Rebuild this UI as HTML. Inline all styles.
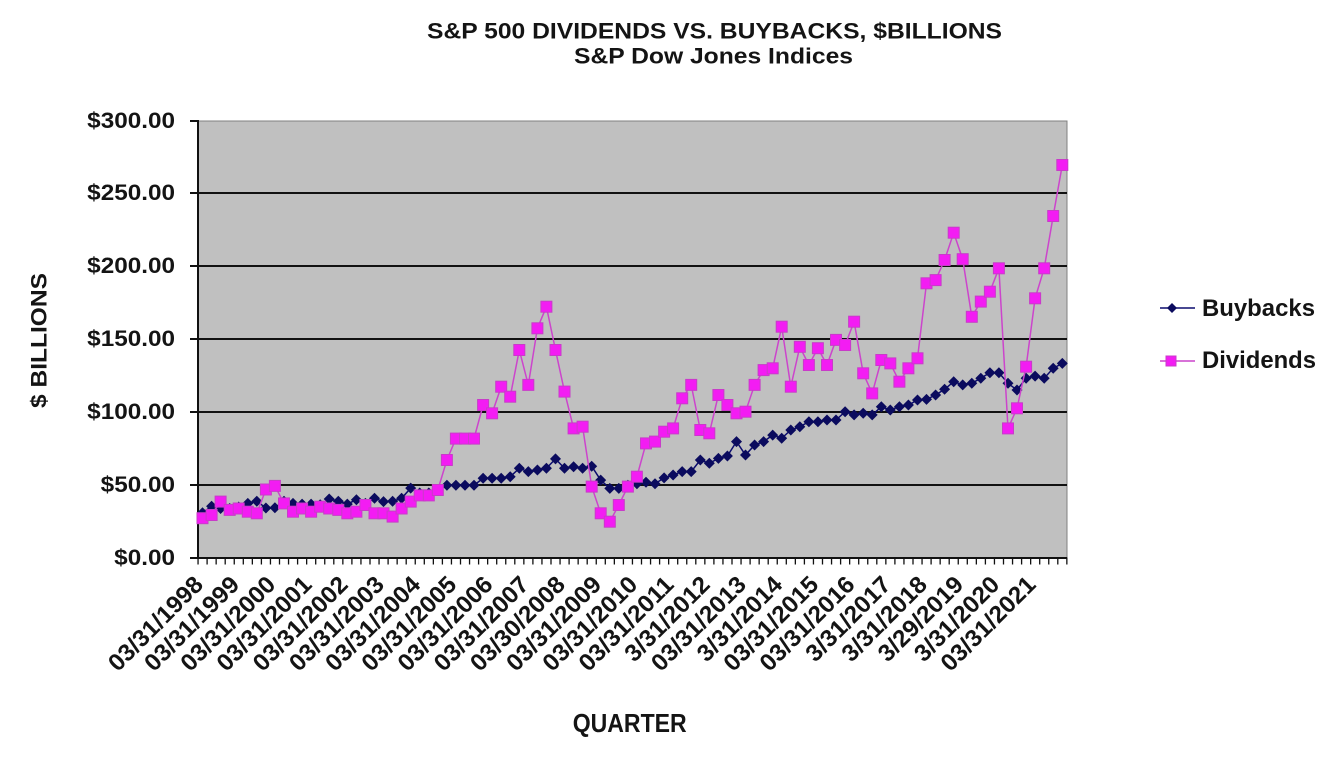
<!DOCTYPE html>
<html>
<head>
<meta charset="utf-8">
<style>
  html,body{margin:0;padding:0;background:#fff;}
  svg{display:block;}
  text{font-family:"Liberation Sans",Arial,sans-serif;font-weight:bold;fill:#141414;}
</style>
</head>
<body>
<svg width="1333" height="760" viewBox="0 0 1333 760" xmlns="http://www.w3.org/2000/svg">
  <defs>
    <marker id="dm" markerWidth="13" markerHeight="13" refX="6.5" refY="6.5" markerUnits="userSpaceOnUse">
      <path d="M6.5 1 L12 6.5 L6.5 12 L1 6.5 Z" fill="#0b0b5e"/>
    </marker>
    <marker id="sq" markerWidth="13" markerHeight="13" refX="6.5" refY="6.5" markerUnits="userSpaceOnUse">
      <rect x="1" y="1" width="11" height="11" fill="#f31cf3" stroke="#c83cc8" stroke-width="1"/>
    </marker>
  </defs>

  <rect x="0" y="0" width="1333" height="760" fill="#fff"/>

  <!-- titles -->
  <text x="427" y="38.5" font-size="22" textLength="575" lengthAdjust="spacingAndGlyphs">S&amp;P 500 DIVIDENDS VS. BUYBACKS,  $BILLIONS</text>
  <text x="574" y="63.5" font-size="22" textLength="279" lengthAdjust="spacingAndGlyphs">S&amp;P Dow Jones Indices</text>

  <!-- plot area -->
  <rect x="198" y="121" width="869" height="437" fill="#c0c0c0" stroke="#808080" stroke-width="1"/>

  <!-- gridlines -->
  <g stroke="#111" stroke-width="2">
    <line x1="198" y1="193" x2="1067" y2="193"/>
    <line x1="198" y1="266" x2="1067" y2="266"/>
    <line x1="198" y1="339" x2="1067" y2="339"/>
    <line x1="198" y1="412" x2="1067" y2="412"/>
    <line x1="198" y1="485" x2="1067" y2="485"/>
  </g>

  <!-- axes -->
  <g stroke="#111" stroke-width="2">
    <line x1="198" y1="120" x2="198" y2="559"/>
    <line x1="197" y1="558" x2="1067" y2="558"/>
    <line x1="190" y1="121" x2="198" y2="121"/>
    <line x1="190" y1="193" x2="198" y2="193"/>
    <line x1="190" y1="266" x2="198" y2="266"/>
    <line x1="190" y1="339" x2="198" y2="339"/>
    <line x1="190" y1="412" x2="198" y2="412"/>
    <line x1="190" y1="485" x2="198" y2="485"/>
    <line x1="190" y1="558" x2="198" y2="558"/>
  </g>
  <line x1="197.4" y1="561" x2="1068" y2="561" stroke="#111" stroke-width="7" stroke-dasharray="1.3 7.75"/>

  <!-- y labels -->
  <g font-size="22" text-anchor="end">
    <text x="175" y="128" textLength="87.8" lengthAdjust="spacingAndGlyphs">$300.00</text>
    <text x="175" y="200" textLength="87.8" lengthAdjust="spacingAndGlyphs">$250.00</text>
    <text x="175" y="273" textLength="87.8" lengthAdjust="spacingAndGlyphs">$200.00</text>
    <text x="175" y="346" textLength="87.8" lengthAdjust="spacingAndGlyphs">$150.00</text>
    <text x="175" y="419" textLength="87.8" lengthAdjust="spacingAndGlyphs">$100.00</text>
    <text x="175" y="492" textLength="74.3" lengthAdjust="spacingAndGlyphs">$50.00</text>
    <text x="175" y="565" textLength="60.8" lengthAdjust="spacingAndGlyphs">$0.00</text>
  </g>

  <!-- y title -->
  <text transform="translate(46.5,340.5) rotate(-90)" font-size="22" text-anchor="middle" textLength="135" lengthAdjust="spacingAndGlyphs">$ BILLIONS</text>

  <!-- x labels -->
  <g font-size="24" text-anchor="end">
    <text transform="translate(204.5,586) rotate(-45)" textLength="122.6" lengthAdjust="spacingAndGlyphs">03/31/1998</text>
    <text transform="translate(240.7,586) rotate(-45)" textLength="122.6" lengthAdjust="spacingAndGlyphs">03/31/1999</text>
    <text transform="translate(276.9,586) rotate(-45)" textLength="122.6" lengthAdjust="spacingAndGlyphs">03/31/2000</text>
    <text transform="translate(313.1,586) rotate(-45)" textLength="122.6" lengthAdjust="spacingAndGlyphs">03/31/2001</text>
    <text transform="translate(349.3,586) rotate(-45)" textLength="122.6" lengthAdjust="spacingAndGlyphs">03/31/2002</text>
    <text transform="translate(385.5,586) rotate(-45)" textLength="122.6" lengthAdjust="spacingAndGlyphs">03/31/2003</text>
    <text transform="translate(421.7,586) rotate(-45)" textLength="122.6" lengthAdjust="spacingAndGlyphs">03/31/2004</text>
    <text transform="translate(457.9,586) rotate(-45)" textLength="122.6" lengthAdjust="spacingAndGlyphs">03/31/2005</text>
    <text transform="translate(494.1,586) rotate(-45)" textLength="122.6" lengthAdjust="spacingAndGlyphs">03/31/2006</text>
    <text transform="translate(530.3,586) rotate(-45)" textLength="122.6" lengthAdjust="spacingAndGlyphs">03/31/2007</text>
    <text transform="translate(566.5,586) rotate(-45)" textLength="122.6" lengthAdjust="spacingAndGlyphs">03/30/2008</text>
    <text transform="translate(602.7,586) rotate(-45)" textLength="122.6" lengthAdjust="spacingAndGlyphs">03/31/2009</text>
    <text transform="translate(638.9,586) rotate(-45)" textLength="122.6" lengthAdjust="spacingAndGlyphs">03/31/2010</text>
    <text transform="translate(675.1,586) rotate(-45)" textLength="122.6" lengthAdjust="spacingAndGlyphs">03/31/2011</text>
    <text transform="translate(711.3,586) rotate(-45)" textLength="109" lengthAdjust="spacingAndGlyphs">3/31/2012</text>
    <text transform="translate(747.5,586) rotate(-45)" textLength="122.6" lengthAdjust="spacingAndGlyphs">03/31/2013</text>
    <text transform="translate(783.7,586) rotate(-45)" textLength="109" lengthAdjust="spacingAndGlyphs">3/31/2014</text>
    <text transform="translate(819.9,586) rotate(-45)" textLength="122.6" lengthAdjust="spacingAndGlyphs">03/31/2015</text>
    <text transform="translate(856.1,586) rotate(-45)" textLength="122.6" lengthAdjust="spacingAndGlyphs">03/31/2016</text>
    <text transform="translate(892.3,586) rotate(-45)" textLength="109" lengthAdjust="spacingAndGlyphs">3/31/2017</text>
    <text transform="translate(928.5,586) rotate(-45)" textLength="109" lengthAdjust="spacingAndGlyphs">3/31/2018</text>
    <text transform="translate(964.7,586) rotate(-45)" textLength="109" lengthAdjust="spacingAndGlyphs">3/29/2019</text>
    <text transform="translate(1000.9,586) rotate(-45)" textLength="109" lengthAdjust="spacingAndGlyphs">3/31/2020</text>
    <text transform="translate(1037.1,586) rotate(-45)" textLength="122.6" lengthAdjust="spacingAndGlyphs">03/31/2021</text>
  </g>

  <!-- x title -->
  <text x="572.7" y="732" font-size="26" textLength="114" lengthAdjust="spacingAndGlyphs">QUARTER</text>

  <!-- Buybacks series -->
  <polyline fill="none" stroke="#0b0b6e" stroke-width="1.5" marker-start="url(#dm)" marker-mid="url(#dm)" marker-end="url(#dm)"
    points="202.5,512.8 211.6,506.3 220.6,508.5 229.7,508.5 238.7,507 247.8,503.4 256.8,501.2 265.9,508 274.9,507.7 284,501.2 293,503.4 302.1,504.1 311.1,504.1 320.2,504.8 329.2,499 338.3,501.2 347.3,504.1 356.4,499.7 365.4,503.4 374.5,498.3 383.5,501.6 392.6,501.2 401.6,498.3 410.7,488.1 419.7,493 428.8,493 437.8,490 446.9,485.2 455.9,485.2 465,485.2 474,485.2 483.1,478.3 492.1,478.3 501.2,478.3 510.2,476.7 519.3,468.3 528.3,471.6 537.4,470 546.4,468.3 555.5,458.9 564.5,468.3 573.6,466.7 582.6,468.3 591.7,466.2 600.7,480.1 609.8,488.4 618.8,488.4 627.9,485.2 636.9,483.7 646,482.3 655,483.7 664.1,477.9 673.1,475 682.2,471.6 691.2,471.6 700.3,460 709.3,463.3 718.4,458.4 727.4,456 736.5,441.6 745.5,455 754.6,445 763.6,441.6 772.7,435.1 781.7,438.3 790.8,430 799.8,426.7 808.9,421.7 817.9,421.7 827,420 836,420 845.1,411.7 854.1,414.9 863.2,413.3 872.2,414.9 881.3,406.7 890.3,410 899.4,406.7 908.4,405 917.5,400 926.5,399.4 935.6,395 944.6,389.3 953.7,381.7 962.7,384.9 971.8,383.3 980.8,378.2 989.9,372.7 998.9,372.7 1008,383.3 1017,390 1026.1,378.2 1035.1,376.1 1044.2,378.2 1053.2,368.3 1062.3,363.4"/>

  <!-- Dividends series -->
  <polyline fill="none" stroke="#cc44cc" stroke-width="1.5" marker-start="url(#sq)" marker-mid="url(#sq)" marker-end="url(#sq)"
    points="202.5,518.2 211.6,515 220.6,501.6 229.7,509.9 238.7,508.5 247.8,511.7 256.8,513.3 265.9,489.5 274.9,485.9 284,503.4 293,511.7 302.1,508.5 311.1,511.7 320.2,506.7 329.2,508.5 338.3,509.9 347.3,513.3 356.4,511.7 365.4,505 374.5,513.3 383.5,513.3 392.6,516.6 401.6,508.5 410.7,501.6 419.7,495.4 428.8,495.4 437.8,490 446.9,460 455.9,438.6 465,438.6 474,438.6 483.1,405 492.1,413.3 501.2,386.7 510.2,396.7 519.3,350 528.3,384.9 537.4,328.3 546.4,306.7 555.5,350 564.5,391.6 573.6,428.4 582.6,426.7 591.7,486.6 600.7,513.3 609.8,521.7 618.8,505 627.9,486.6 636.9,476.7 646,443.4 655,441.6 664.1,431.7 673.1,428.4 682.2,398.3 691.2,384.9 700.3,430 709.3,433.3 718.4,395 727.4,405 736.5,413.3 745.5,411.7 754.6,384.9 763.6,370.1 772.7,368.3 781.7,326.7 790.8,386.7 799.8,346.8 808.9,365 817.9,348.2 827,365 836,339.9 845.1,345 854.1,321.7 863.2,373.3 872.2,393.4 881.3,360 890.3,363.4 899.4,381.7 908.4,368.3 917.5,358.3 926.5,283.3 935.6,280.1 944.6,260 953.7,232.7 962.7,259.2 971.8,316.8 980.8,301.6 989.9,291.7 998.9,268.3 1008,428.4 1017,408.3 1026.1,366.7 1035.1,298.3 1044.2,268.3 1053.2,216 1062.3,165"/>

  <!-- legend -->
  <line x1="1160" y1="308" x2="1195" y2="308" stroke="#0b0b6e" stroke-width="1.5"/>
  <path d="M1172 303 L1177 308 L1172 313 L1167 308 Z" fill="#0b0b5e"/>
  <text x="1202" y="316" font-size="24" textLength="113" lengthAdjust="spacingAndGlyphs">Buybacks</text>

  <line x1="1160" y1="361" x2="1195" y2="361" stroke="#cc44cc" stroke-width="1.5"/>
  <rect x="1166" y="356" width="10" height="10" fill="#f31cf3" stroke="#c83cc8" stroke-width="1"/>
  <text x="1202" y="368" font-size="24" textLength="114" lengthAdjust="spacingAndGlyphs">Dividends</text>
</svg>
</body>
</html>
